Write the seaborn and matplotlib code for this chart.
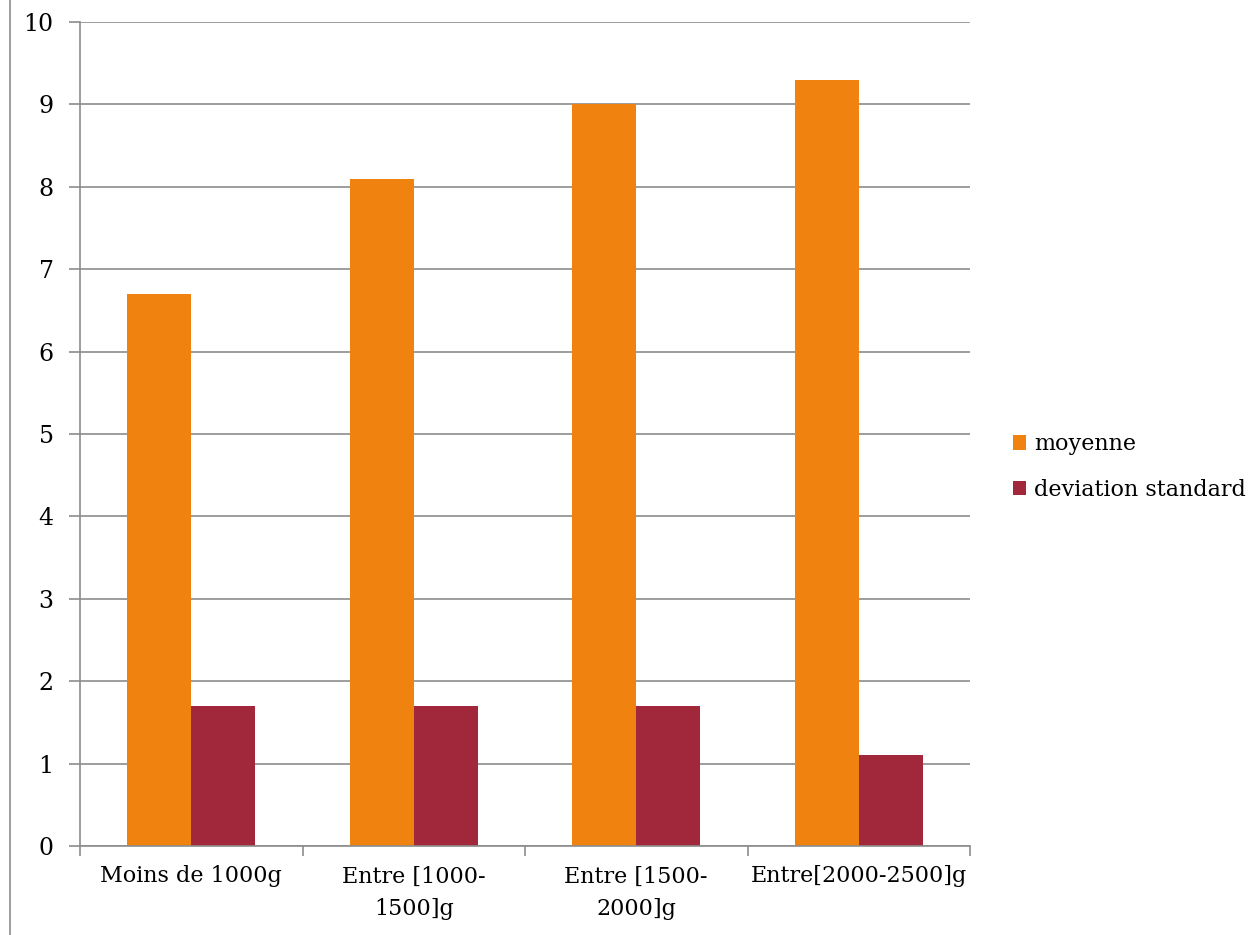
import matplotlib
matplotlib.use("Agg")
import matplotlib.pyplot as plt
import seaborn as sns
import pandas as pd
from matplotlib.lines import Line2D
from matplotlib.patches import Patch

categories = ["Moins de 1000g", "Entre [1000-\n1500]g", "Entre [1500-\n2000]g", "Entre[2000-2500]g"]
moyenne = [6.7, 8.1, 9.0, 9.3]
deviation = [1.7, 1.7, 1.7, 1.1]
series = ["moyenne", "deviation standard"]
colors = ["#F0820F", "#A0283A"]

df = pd.DataFrame({
    "cat": categories * 2,
    "val": moyenne + deviation,
    "serie": [series[0]] * 4 + [series[1]] * 4,
})

sns.set_style("white")
plt.rcParams['font.family'] = ['DejaVu Serif']
plt.rcParams['text.color'] = 'black'
plt.rcParams['xtick.color'] = 'black'
plt.rcParams['ytick.color'] = 'black'

fig = plt.figure(figsize=(12.52, 9.35), dpi=100)
ax = fig.add_axes([80/1252, 1-846/935, 890/1252, 824/935])

sns.barplot(data=df, x="cat", y="val", hue="serie", palette=colors, width=0.575,
            saturation=1, ax=ax, legend=False, linewidth=0, edgecolor="none")

ax.set_ylim(0, 10)
ax.set_xlim(-0.5, 3.5)
ax.set_yticks(range(0, 11))
grid_c = "#8C8C8C"
ax.yaxis.grid(True, color=grid_c, linewidth=1.2)
ax.set_axisbelow(True)
for s in ["top", "right"]:
    ax.spines[s].set_visible(False)
for s in ["left", "bottom"]:
    ax.spines[s].set_color(grid_c)
    ax.spines[s].set_linewidth(1.2)
ax.tick_params(axis="y", left=True, length=8, color=grid_c, width=1.2, labelsize=17, pad=11,
               labelcolor="black")
ax.tick_params(axis="x", which="major", bottom=True, length=0, labelsize=16, pad=14,
               labelcolor="black")
ax.set_xticks([-0.5, 0.5, 1.5, 2.5, 3.5], minor=True)
ax.tick_params(axis="x", which="minor", bottom=True, length=7, color=grid_c, width=1.2,
               direction="out")
ax.set_xlabel("")
ax.set_ylabel("")
for lab in ax.get_xticklabels():
    lab.set_linespacing(1.65)

handles = [Patch(facecolor=c, edgecolor="none") for c in colors]
fig.legend(handles, series, loc="center left", bbox_to_anchor=(1013/1252, 1-467/935),
           frameon=False, fontsize=16, handlelength=0.6, handleheight=0.6,
           handletextpad=0.35, labelspacing=1.05, borderpad=0, borderaxespad=0)

fig.add_artist(Line2D([10/1252, 10/1252], [0, 1], color=grid_c, linewidth=1.2,
                      transform=fig.transFigure))

fig.savefig("out.png", dpi=100)
